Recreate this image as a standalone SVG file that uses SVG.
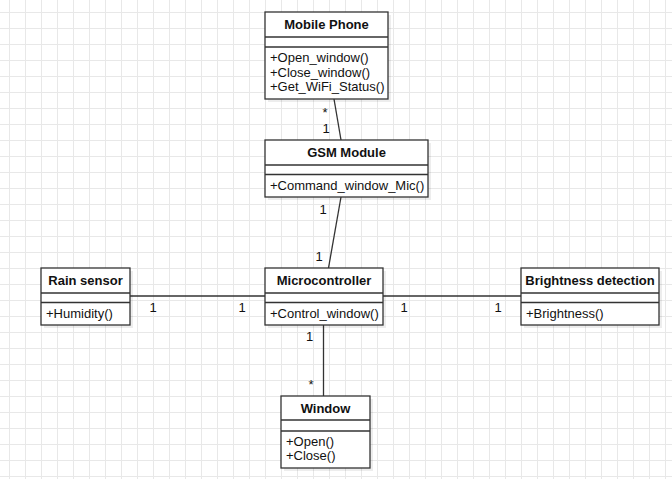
<svg xmlns="http://www.w3.org/2000/svg" width="672" height="479" viewBox="0 0 672 479">
<defs>
<pattern id="grid" x="9" y="12" width="16" height="16" patternUnits="userSpaceOnUse">
<path d="M 0 0.5 H 16 M 0.5 0 V 16" fill="none" stroke="#e8e8e8" stroke-width="1"/>
</pattern>
</defs>
<style>
.box{fill:#ffffff;stroke:#333333;stroke-width:1.3}
.shadow{fill:#000000;fill-opacity:0.07}
.div{stroke:#333333;stroke-width:1.3}
.title{font-family:"Liberation Sans",Arial,sans-serif;font-size:13px;font-weight:bold;fill:#111111;text-anchor:middle}
.m{font-family:"Liberation Sans",Arial,sans-serif;font-size:13px;fill:#111111}
.lbl{font-family:"Liberation Sans",Arial,sans-serif;font-size:13px;fill:#111111;text-anchor:middle}
.conn{stroke:#333333;stroke-width:1.3;fill:none}
</style>
<rect x="0" y="0" width="672" height="479" fill="#ffffff"/>
<rect x="0" y="0" width="672" height="479" fill="url(#grid)"/>

<g id="connectors">
<line class="conn" x1="334" y1="99" x2="341" y2="140"/>
<line class="conn" x1="341" y1="197" x2="328.5" y2="268"/>
<line class="conn" x1="130" y1="296" x2="265" y2="296"/>
<line class="conn" x1="383" y1="296" x2="521" y2="296"/>
<line class="conn" x1="323.5" y1="325" x2="323.5" y2="396"/>
<text class="lbl" x="325" y="116.5">*</text>
<text class="lbl" x="326" y="132.5">1</text>
<text class="lbl" x="323" y="213.7">1</text>
<text class="lbl" x="319" y="260.5">1</text>
<text class="lbl" x="153" y="312">1</text>
<text class="lbl" x="242" y="312">1</text>
<text class="lbl" x="404" y="312">1</text>
<text class="lbl" x="498" y="312">1</text>
<text class="lbl" x="309.5" y="341">1</text>
<text class="lbl" x="311" y="389">*</text>
</g>

<g id="mobile-phone">
<rect class="shadow" x="268" y="15" width="123" height="87"/>
<rect class="box" x="265" y="12" width="123" height="87"/>
<line class="div" x1="265" y1="37" x2="388" y2="37"/>
<line class="div" x1="265" y1="47" x2="388" y2="47"/>
<text class="title" x="326.5" y="29.2">Mobile Phone</text>
<text class="m" x="270" y="62.4">+Open_window()</text>
<text class="m" x="270" y="76.6">+Close_window()</text>
<text class="m" x="270" y="90.8">+Get_WiFi_Status()</text>
</g>

<g id="gsm-module">
<rect class="shadow" x="268" y="143" width="163" height="57"/>
<rect class="box" x="265" y="140" width="163" height="57"/>
<line class="div" x1="265" y1="165" x2="428" y2="165"/>
<line class="div" x1="265" y1="174.5" x2="428" y2="174.5"/>
<text class="title" x="346.5" y="157.4">GSM Module</text>
<text class="m" x="270" y="189.6">+Command_window_Mic()</text>
</g>

<g id="rain-sensor">
<rect class="shadow" x="44" y="271" width="89" height="57"/>
<rect class="box" x="41" y="268" width="89" height="57"/>
<line class="div" x1="41" y1="293" x2="130" y2="293"/>
<line class="div" x1="41" y1="302.5" x2="130" y2="302.5"/>
<text class="title" x="85.5" y="285">Rain sensor</text>
<text class="m" x="46" y="317.5">+Humidity()</text>
</g>

<g id="microcontroller">
<rect class="shadow" x="268" y="271" width="118" height="57"/>
<rect class="box" x="265" y="268" width="118" height="57"/>
<line class="div" x1="265" y1="293" x2="383" y2="293"/>
<line class="div" x1="265" y1="302.5" x2="383" y2="302.5"/>
<text class="title" x="324" y="285">Microcontroller</text>
<text class="m" x="270" y="317.5">+Control_window()</text>
</g>

<g id="brightness-detection">
<rect class="shadow" x="524" y="271" width="138" height="57"/>
<rect class="box" x="521" y="268" width="138" height="57"/>
<line class="div" x1="521" y1="293" x2="659" y2="293"/>
<line class="div" x1="521" y1="302.5" x2="659" y2="302.5"/>
<text class="title" x="590" y="285">Brightness detection</text>
<text class="m" x="526" y="317.5">+Brightness()</text>
</g>

<g id="window">
<rect class="shadow" x="284" y="399" width="89" height="72"/>
<rect class="box" x="281" y="396" width="89" height="72"/>
<line class="div" x1="281" y1="420" x2="370" y2="420"/>
<line class="div" x1="281" y1="431" x2="370" y2="431"/>
<text class="title" x="325.5" y="412.5">Window</text>
<text class="m" x="286" y="445.5">+Open()</text>
<text class="m" x="286" y="460">+Close()</text>
</g>
</svg>
